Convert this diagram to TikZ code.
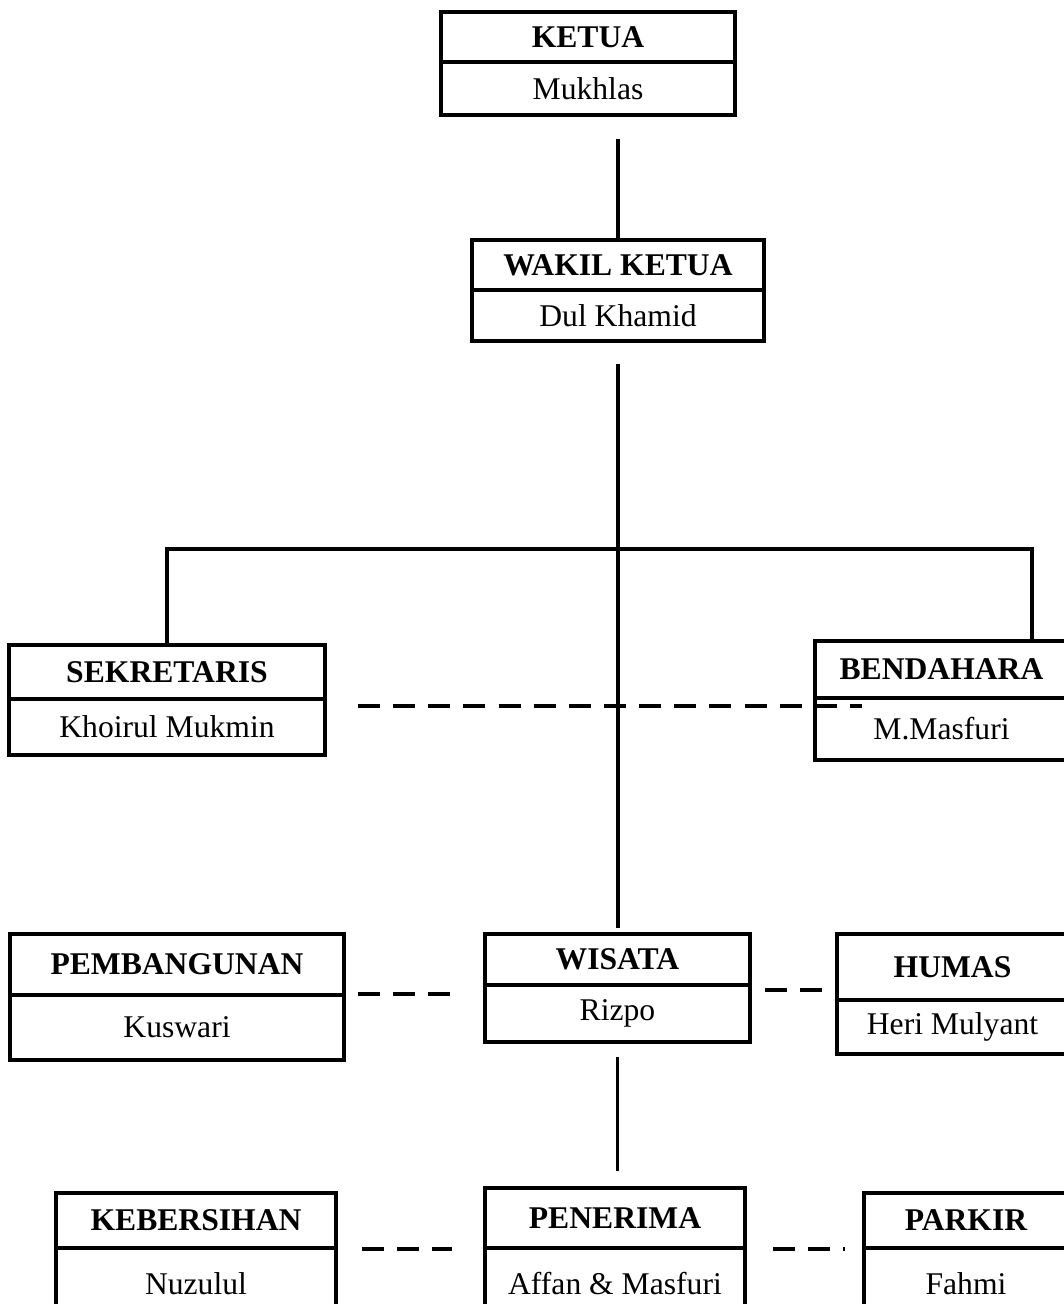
\documentclass[tikz,border=0pt]{standalone}
\usepackage{fontspec}
\setmainfont{Liberation Serif}
\usepackage{tikz}
\usetikzlibrary{positioning,calc}

\begin{document}
\begin{tikzpicture}[x=0.02cm,y=-0.02cm,
  every node/.style={font=\fontsize{18}{22}\selectfont},
  titlebox/.style={draw,line width=2.2pt,inner sep=0pt,font=\fontsize{18}{22}\selectfont\bfseries},
  personbox/.style={draw,line width=2.2pt,inner sep=0pt},
  link/.style={line width=2.2pt},
  dashlink/.style={line width=2.2pt,dash pattern=on 12.5pt off 7.5pt}]
  \useasboundingbox (0,0) rectangle (1064,1304);

  % pengurus inti
  \node[titlebox,minimum width=5.88cm,minimum height=1.0cm] (ketuaT) at (588,37) {KETUA};
  \node[personbox,minimum width=5.88cm,minimum height=1.06cm] (ketuaP) at (588,88.5) {Mukhlas};
  \node[titlebox,minimum width=5.84cm,minimum height=1.0cm] (wakilT) at (618,265) {WAKIL KETUA};
  \node[personbox,minimum width=5.84cm,minimum height=1.02cm] (wakilP) at (618,315.5) {Dul Khamid};
  \node[titlebox,minimum width=6.32cm,minimum height=1.08cm] (sekT) at (167,672) {SEKRETARIS};
  \node[personbox,minimum width=6.32cm,minimum height=1.12cm] (sekP) at (167,727) {Khoirul Mukmin};
  \node[titlebox,minimum width=5.06cm,minimum height=1.14cm] (benT) at (941.5,669.5) {BENDAHARA};
  \node[personbox,minimum width=5.06cm,minimum height=1.24cm] (benP) at (941.5,729) {M.Masfuri};

  % seksi
  \node[titlebox,minimum width=6.68cm,minimum height=1.22cm] (pembT) at (177,964.5) {PEMBANGUNAN};
  \node[personbox,minimum width=6.68cm,minimum height=1.3cm] (pembP) at (177,1027.5) {Kuswari};
  \node[titlebox,minimum width=5.3cm,minimum height=1.02cm] (wisT) at (617.5,959.5) {WISATA};
  \node[personbox,minimum width=5.3cm,minimum height=1.14cm] (wisP) at (617.5,1013.5) {Rizpo};
  \node[titlebox,minimum width=4.62cm,minimum height=1.32cm] (humT) at (952.5,967) {HUMAS};
  \node[personbox,minimum width=4.62cm,minimum height=1.08cm] (humP) at (952.5,1027) {Heri Mulyant};
  \node[titlebox,minimum width=5.6cm,minimum height=1.1cm] (kebT) at (196,1220.5) {KEBERSIHAN};
  \node[personbox,minimum width=5.6cm,minimum height=1.44cm] (kebP) at (196,1284) {Nuzulul};
  \node[titlebox,minimum width=5.2cm,minimum height=1.2cm] (penT) at (615,1218) {PENERIMA};
  \node[personbox,minimum width=5.2cm,minimum height=1.44cm] (penP) at (615,1284) {Affan \& Masfuri};
  \node[titlebox,minimum width=4.08cm,minimum height=1.1cm] (parT) at (966,1220.5) {PARKIR};
  \node[personbox,minimum width=4.08cm,minimum height=1.44cm] (parP) at (966,1284) {Fahmi};

  \coordinate (br) at (620,549);
  \coordinate (benJ) at (1032,641);
  \draw[link,shorten >=0.44cm] (wakilT.north) -- (wakilT.north |- ketuaP.south);
  \draw[link,shorten <=0.42cm,shorten >=0.08cm] (wakilP.south) -- (wakilP.south |- wisT.north);
  \draw[link] (sekT.north) -- (sekT.north |- br) -- (benJ |- br) -- (benJ);
  \draw[link,shorten <=0.26cm,shorten >=0.3cm] (wisP.south) -- (wisP.south |- penT.north);

  % garis koordinasi
  \coordinate (s1) at (358,706);  \coordinate (s2) at (862,706);
  \coordinate (p1) at (358,994);  \coordinate (p2) at (451,994);
  \coordinate (h1) at (765,990);  \coordinate (h2) at (830,990);
  \coordinate (k1) at (362,1249); \coordinate (k2) at (452,1249);
  \coordinate (r1) at (773,1249); \coordinate (r2) at (845,1249);
  \foreach \a/\b in {s1/s2, p1/p2, h1/h2, k1/k2, r1/r2}
    \draw[dashlink] (\a) -- (\b);
\end{tikzpicture}
\end{document}
